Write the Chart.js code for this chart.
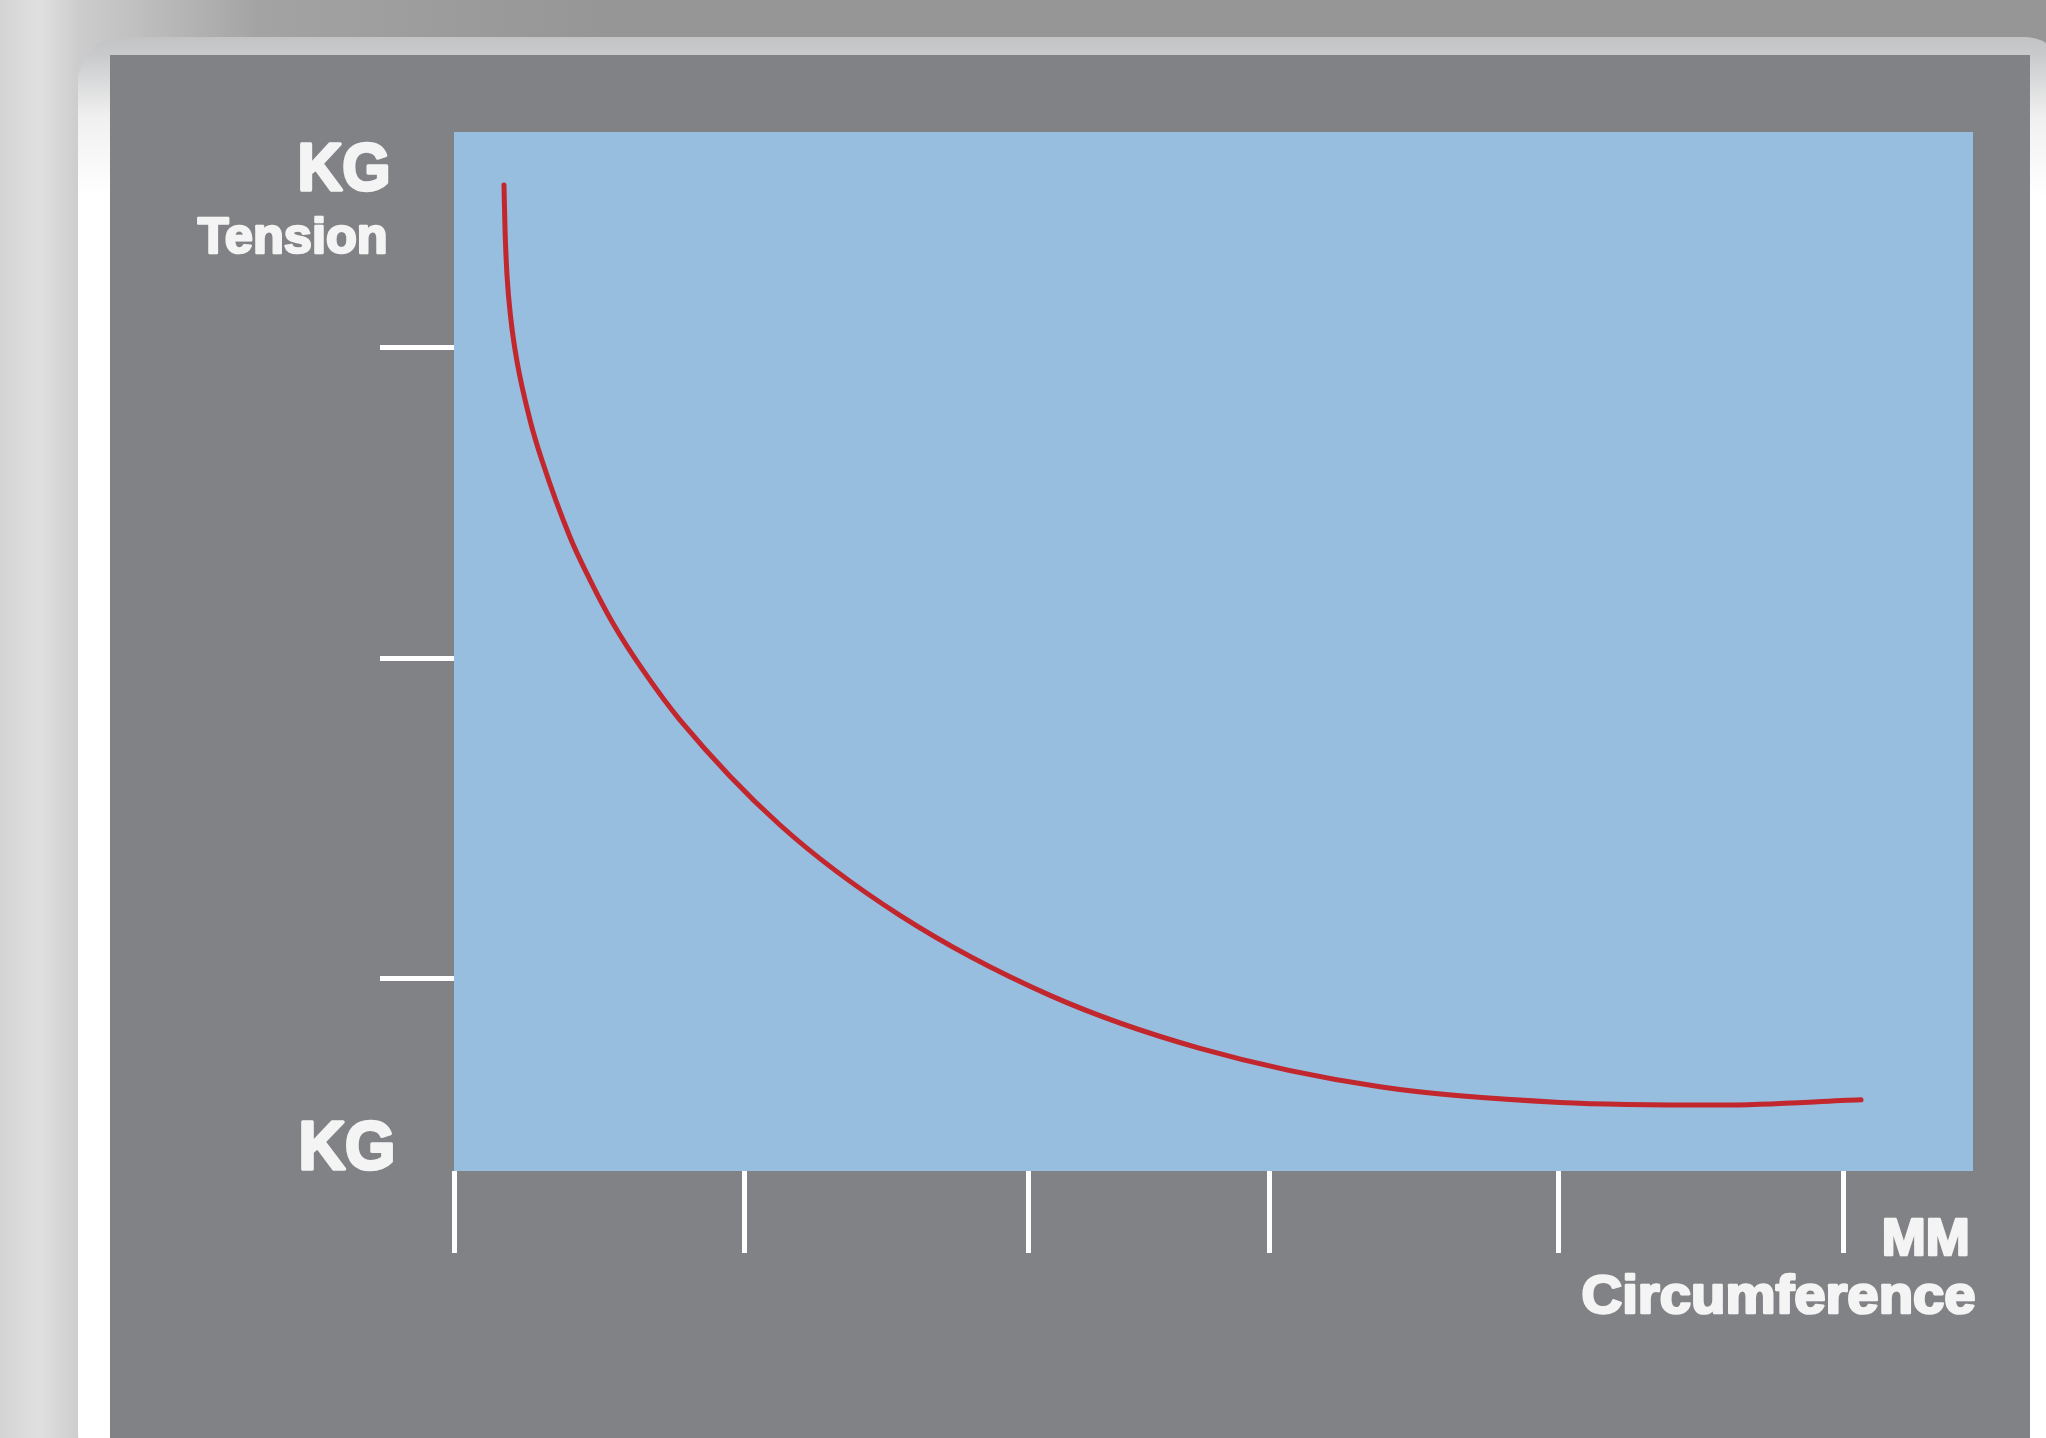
<!DOCTYPE html>
<html>
<head>
<meta charset="utf-8">
<script src="https://cdn.jsdelivr.net/npm/chart.js@4"></script>
<style>
    html, body { margin: 0; padding: 0; }
    body {
        width: 2046px;
        height: 1438px;
        overflow: hidden;
        position: relative;
        background: linear-gradient(to right, #d4d4d4 0px, #e0e0e0 40px, #cdcdcd 78px, #a3a3a3 260px, #969696 600px);
    }
    .frame {
        position: absolute;
        left: 78px; top: 37px;
        width: 1990px; height: 1440px;
        border-radius: 44px;
        background: linear-gradient(to bottom, #c2c3c5 0px, #c9cacc 18px, #f0f0f0 80px, #ffffff 160px);
    }
    .panel {
        position: absolute;
        left: 110px; top: 55px;
        width: 1920px; height: 1400px;
        background: #818285;
    }
    #tensionChart {
        position: absolute;
        left: 0; top: 0;
    }
</style>
</head>
<body>
<div class="frame"></div>
<div class="panel"></div>
<canvas id="tensionChart" width="2046" height="1438"></canvas>

<script>
// 둘레(mm) 대비 장력(kg) - 그림에서 읽은 값 (축 단위는 0~100 상대값)
const circumference = [3.29, 3.36, 3.49, 3.75, 4.15, 5.00, 5.79, 7.64, 8.95, 10.47, 12.44, 14.88, 21.46, 29.36, 39.24, 49.11, 60.96, 72.81, 83.34, 92.63];
const tension       = [94.9, 90.6, 86.2, 81.9, 77.9, 72.3, 68.4, 61.0, 56.9, 52.7, 48.2, 43.4, 33.3, 24.6, 16.9, 11.8, 8.1, 6.6, 6.35, 6.85];

// 눈금 위치 (라벨 없음)
const xTickValues = [0, 19.1, 37.8, 53.7, 72.7, 91.5];
const yTickValues = [18.5, 49.3, 79.3];

// 축 글자
const yUnitLabel = 'KG';
const yTitleLabel = 'Tension';
const yBottomLabel = 'KG';
const xUnitLabel = 'MM';
const xTitleLabel = 'Circumference';

const points = circumference.map((x, i) => ({ x: x, y: tension[i] }));

// 차트 영역 배경 (하늘색)
const plotBackground = {
    id: 'plotBackground',
    beforeDraw(chart) {
        const { ctx, chartArea } = chart;
        ctx.save();
        ctx.fillStyle = '#97bddf';
        ctx.fillRect(chartArea.left, chartArea.top, chartArea.right - chartArea.left, chartArea.bottom - chartArea.top);
        ctx.restore();
    }
};

// 글자 폭을 맞춰서 그리기 (condensed + 굵게)
function drawLabel(ctx, text, right, baseline, size, width) {
    ctx.save();
    ctx.font = `bold ${size}px "Liberation Sans", Arial, sans-serif`;
    const w = ctx.measureText(text).width;
    ctx.translate(right, baseline);
    ctx.scale(width / w, 1);
    ctx.textAlign = 'right';
    ctx.textBaseline = 'alphabetic';
    ctx.fillStyle = '#f4f4f4';
    ctx.strokeStyle = '#f4f4f4';
    ctx.lineWidth = size * 0.05;
    ctx.lineJoin = 'round';
    ctx.strokeText(text, -ctx.lineWidth / 2, 0);
    ctx.fillText(text, -ctx.lineWidth / 2, 0);
    ctx.restore();
}

const axisLabels = {
    id: 'axisLabels',
    afterDraw(chart) {
        const { ctx, chartArea } = chart;
        const l = chartArea.left, r = chartArea.right, t = chartArea.top, b = chartArea.bottom;
        drawLabel(ctx, yUnitLabel, l - 62, t + 58, 67, 93);
        drawLabel(ctx, yTitleLabel, l - 65, t + 121, 50, 190);
        drawLabel(ctx, yBottomLabel, l - 57, b - 2, 69, 97);
        drawLabel(ctx, xUnitLabel, r - 2, b + 84, 51, 88);
        drawLabel(ctx, xTitleLabel, r + 4, b + 142, 53, 394);
    }
};

new Chart(document.getElementById('tensionChart').getContext('2d'), {
    type: 'line',
    data: {
        datasets: [{
            data: points,
            borderColor: '#c1272d',
            borderWidth: 5,
            borderCapStyle: 'round',
            pointRadius: 0,
            fill: false,
            cubicInterpolationMode: 'monotone'
        }]
    },
    options: {
        responsive: false,
        devicePixelRatio: 1,
        animation: false,
        layout: {
            padding: { top: 132, right: 73, left: 0, bottom: 0 }
        },
        plugins: {
            legend: { display: false },
            tooltip: { enabled: false }
        },
        scales: {
            x: {
                type: 'linear',
                min: 0,
                max: 100,
                border: { display: false },
                ticks: { display: false },
                grid: {
                    drawOnChartArea: false,
                    drawTicks: true,
                    tickLength: 82,
                    tickColor: '#ffffff',
                    tickWidth: 5
                },
                afterBuildTicks: (scale) => {
                    scale.ticks = xTickValues.map(v => ({ value: v }));
                },
                afterFit: (scale) => {
                    scale.height = 267;
                }
            },
            y: {
                type: 'linear',
                min: 0,
                max: 100,
                border: { display: false },
                ticks: { display: false },
                grid: {
                    drawOnChartArea: false,
                    drawTicks: true,
                    tickLength: 74,
                    tickColor: '#ffffff',
                    tickWidth: 5
                },
                afterBuildTicks: (scale) => {
                    scale.ticks = yTickValues.map(v => ({ value: v }));
                },
                afterFit: (scale) => {
                    scale.width = 454;
                }
            }
        }
    },
    plugins: [plotBackground, axisLabels]
});
</script>
</body>
</html>
